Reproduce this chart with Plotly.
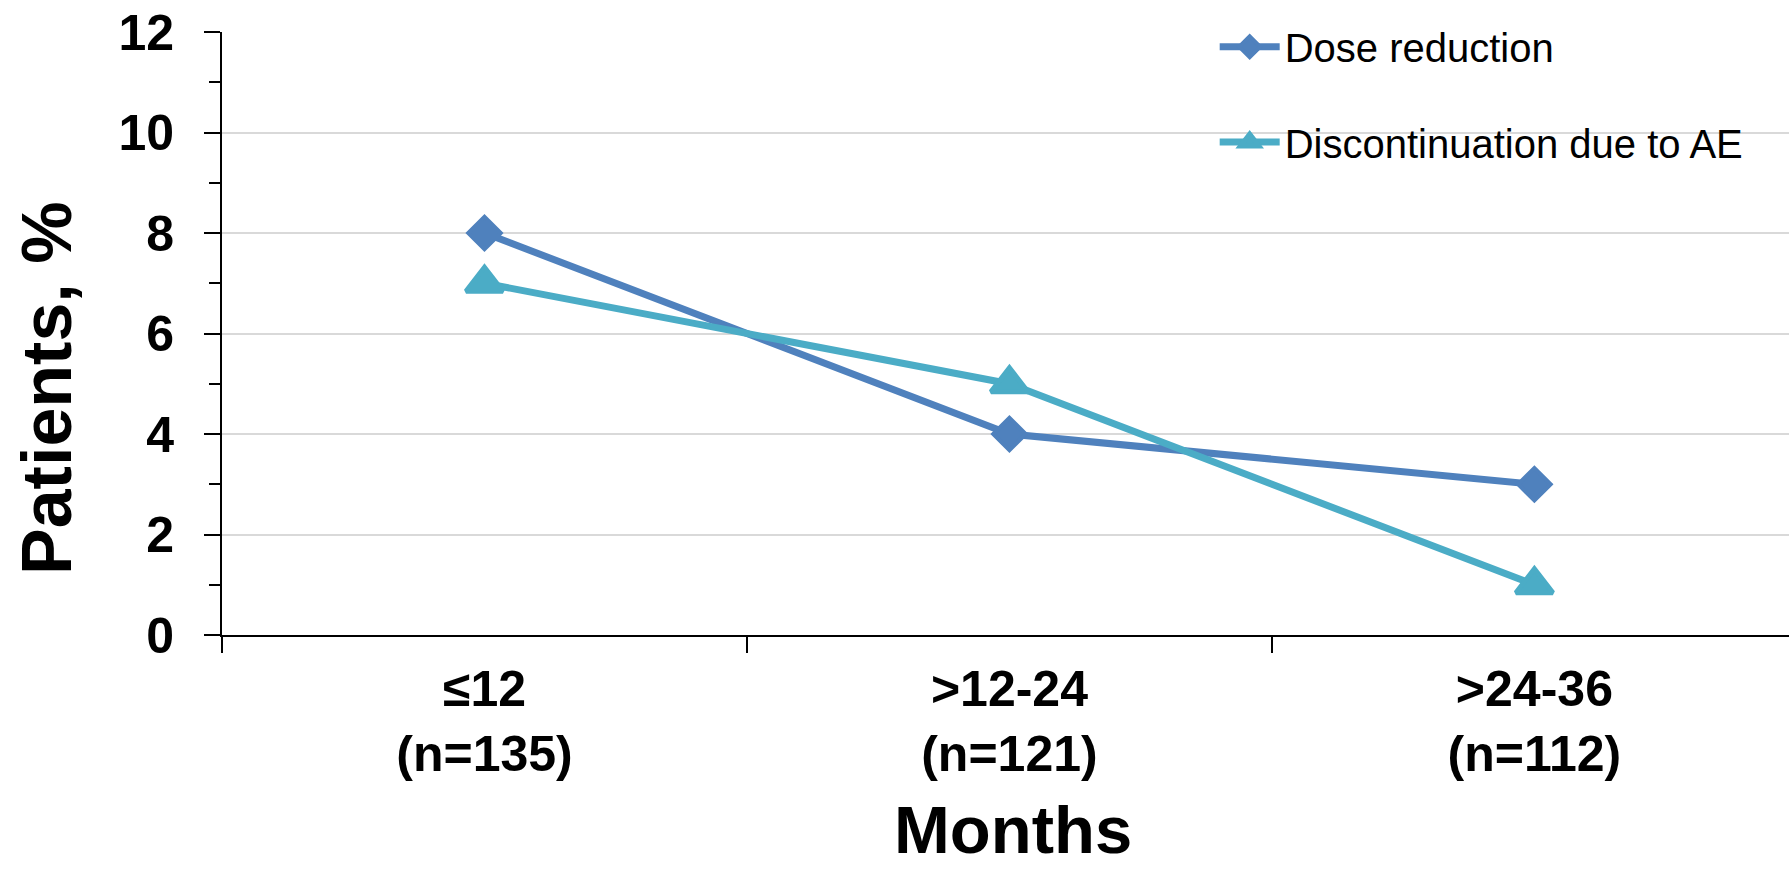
import plotly.graph_objects as go

categories = ["≤12<br>(n=135)", ">12-24<br>(n=121)", ">24-36<br>(n=112)"]
dose_reduction = [8, 4, 3]
discontinuation_ae = [7, 5, 1]
y_ticks = [0, 2, 4, 6, 8, 10, 12]

FONT = "Liberation Sans, Arial, sans-serif"
BLUE = "#4F81BD"
AQUA = "#4BACC6"

fig = go.Figure()
fig.add_trace(go.Scatter(
    x=categories, y=dose_reduction, name="Dose reduction",
    mode="lines+markers",
    line=dict(color=BLUE, width=7),
    marker=dict(symbol="diamond", size=25, color=BLUE,
                line=dict(color=BLUE, width=4)),
    legend="legend", showlegend=True,
))
fig.add_trace(go.Scatter(
    x=categories, y=discontinuation_ae, name="Discontinuation due to AE",
    mode="lines+markers",
    line=dict(color=AQUA, width=7),
    marker=dict(symbol="triangle-up", size=32, color=AQUA,
                line=dict(color=AQUA, width=5)),
    legend="legend2", showlegend=True,
))

legend_common = dict(
    font=dict(family=FONT, size=40, color="black"),
    bgcolor="rgba(0,0,0,0)",
    itemwidth=60,
    xanchor="left", yanchor="middle",
    borderwidth=0,
    visible=True,
)

fig.update_layout(
    width=1789, height=870,
    margin=dict(l=222, r=0, t=32, b=235, autoexpand=False),
    paper_bgcolor="white", plot_bgcolor="white",
    font=dict(family=FONT, color="black"),
    showlegend=True,
    legend=dict(x=0.6335, y=0.9756, **legend_common),
    legend2=dict(x=0.6335, y=0.8176, **legend_common),
    xaxis=dict(
        type="category",
        range=[-0.5, 2.485],
        tickson="boundaries",
        ticks="outside", ticklen=16, tickwidth=2, tickcolor="black",
        showline=True, linecolor="black", linewidth=2,
        showgrid=False, zeroline=False, automargin=False,
        tickfont=dict(family=FONT, size=50, weight="bold", color="black"),
        ticklabelstandoff=9,
    ),
    yaxis=dict(
        range=[0, 12],
        tickvals=y_ticks,
        ticks="outside", ticklen=16, tickwidth=2, tickcolor="black",
        minor=dict(dtick=1, ticks="outside", ticklen=11, tickwidth=2,
                   tickcolor="black", showgrid=False),
        showline=True, linecolor="black", linewidth=2,
        showgrid=True, gridcolor="#d9d9d9", gridwidth=2,
        zeroline=False, automargin=False,
        tickfont=dict(family=FONT, size=50, weight="bold", color="black"),
        ticklabelstandoff=20,
    ),
    annotations=[
        dict(text="<b>Patients, %</b>", xref="paper", yref="paper",
             x=(47 - 222) / 1567, y=(870 - 235 - 389) / 603,
             xanchor="center", yanchor="middle", textangle=-90,
             showarrow=False, font=dict(family=FONT, size=70, color="black")),
        dict(text="<b>Months</b>", xref="paper", yref="paper",
             x=(1013 - 222) / 1567, y=-234 / 603,
             xanchor="center", yanchor="bottom",
             showarrow=False, font=dict(family=FONT, size=67, color="black")),
    ],
)

fig.write_html(
    "out.html",
    config={"displayModeBar": False},
    post_script="document.body.style.margin='0px';document.body.style.overflow='hidden';",
)
